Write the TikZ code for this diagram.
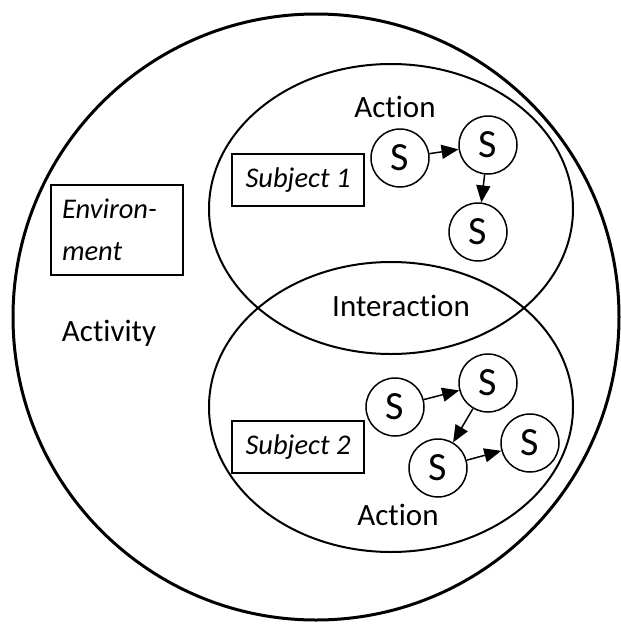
\documentclass[tikz,border=0pt]{standalone}
\usepackage{fontspec}
\setmainfont{Carlito}[RawFeature=-liga]
\usetikzlibrary{shapes.geometric,arrows.meta}
\begin{document}
\begin{tikzpicture}[x=1pt, y=-1pt,
  zone/.style={draw, ellipse, line width=2pt, minimum width=364pt,
               minimum height=290pt, inner sep=0pt},
  actor/.style={draw, circle, line width=1.5pt, minimum size=58pt,
                inner sep=0pt, font=\fontsize{40}{44}\selectfont},
  subj/.style={draw, rectangle, line width=1.5pt, minimum width=132pt,
               minimum height=52pt, font=\fontsize{28.5}{34}\selectfont\itshape},
  lbl/.style={font=\fontsize{31}{36}\selectfont},
  arr/.style={-{Triangle[length=17pt,width=14pt]}, line width=1.5pt}
]
  \useasboundingbox (0,0) rectangle (621,627);

  % Activite et les deux zones d'action
  \node[draw, circle, line width=3pt, minimum size=606pt, inner sep=0pt]
    (activity) at (316,317) {};
  \node[zone] (zone1) at (391,209) {};
  \node[zone] (zone2) at (391,407) {};

  % Textes
  \node[lbl] (act1)  at (395,107) {Action};
  \node[lbl] (inter) at (401,306) {Interaction};
  \node[lbl] (act2)  at (398,515) {Action};
  \node[lbl] (actv)  at (109,333) {Activity};

  \node[draw, rectangle, line width=1.5pt, minimum width=132pt,
        minimum height=90pt, text width=110pt, inner xsep=11pt, align=left,
        font=\fontsize{28.5}{42}\selectfont\itshape]
    (env) at (117,230) {Environ-\\ment};
  \node[subj] (sub1) at (298,180) {Subject 1};
  \node[subj] (sub2) at (298,447) {Subject 2};

  % Sujets 1
  \node[actor] (s11) at (400,158) {S};
  \node[actor] (s12) at (488,145) {S};
  \node[actor] (s13) at (478,232) {S};
  \draw[arr] (s11) -- (s12);
  \draw[arr] (s12) -- (s13);

  % Sujets 2
  \node[actor] (s21) at (395,407) {S};
  \node[actor] (s22) at (488,383) {S};
  \node[actor] (s23) at (438,468) {S};
  \node[actor] (s24) at (530,443) {S};
  \draw[arr] (s21) -- (s22);
  \draw[arr] (s22) -- (s23);
  \draw[arr] (s23) -- (s24);
\end{tikzpicture}
\end{document}
